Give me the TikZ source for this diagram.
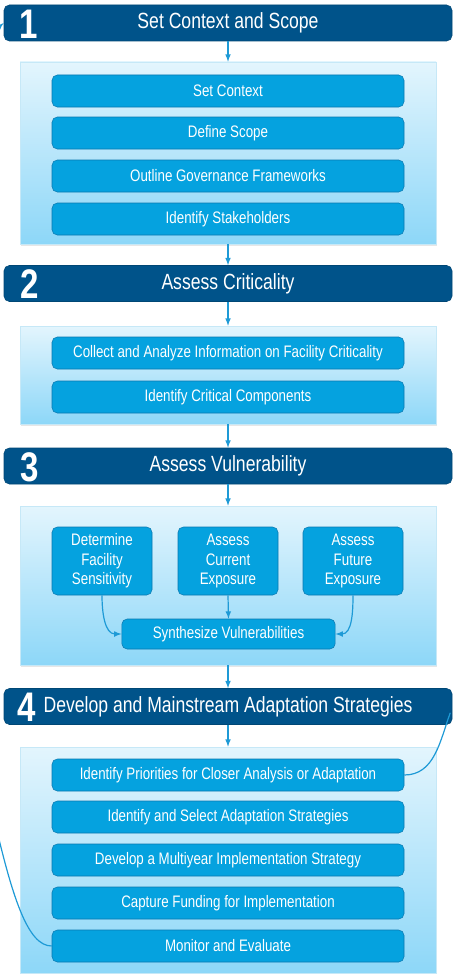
\documentclass[tikz,border=0pt]{standalone}
\usepackage{fontspec}
\setmainfont{Liberation Sans}[FakeStretch=0.8]
\usepackage{tikz}
\usetikzlibrary{calc}
\usetikzlibrary{positioning}
\usetikzlibrary{shadows}

\definecolor{hdrblue}{HTML}{00538A}
\definecolor{boxblue}{HTML}{05A2DF}
\definecolor{boxedge}{HTML}{0A78B0}
\definecolor{pantop}{HTML}{E3F5FD}
\definecolor{panbot}{HTML}{8DD7F8}
\definecolor{panedge}{HTML}{C6E8F7}
\definecolor{linkblue}{HTML}{1E9AD6}

\tikzset{
  hdr/.style={draw=hdrblue!85!black, fill=hdrblue, rounded corners=4pt, inner sep=0pt,
    minimum width=336pt, minimum height=27pt, text=white, font=\fontsize{16.5}{19}\selectfont},
  panel/.style={draw=panedge, top color=pantop, bottom color=panbot, inner sep=0pt, minimum width=312pt,
    drop shadow={opacity=0.2, shadow xshift=1pt, shadow yshift=-1.2pt}},
  stepbox/.style={draw=boxedge, fill=boxblue, rounded corners=4pt, inner sep=0pt, align=center,
    minimum width=264pt, minimum height=24pt, text=white, font=\fontsize{12.5}{14.5}\selectfont},
  num/.style={text=white, inner sep=0pt, font=\fontsize{31}{31}\bfseries\selectfont},
  link/.style={draw=linkblue, line width=0.9pt}
}

\begin{document}
\begin{tikzpicture}[>=latex, x=0.75pt, y=0.75pt]
\useasboundingbox (0,0) rectangle (453,-974);

% step 1
\node[hdr] at (228,-23) (h1) {Set Context and Scope};
\node[num] at (29,-24) (n1) {1};
\node[panel, minimum height=136.5pt] at (228,-153) (pan1) {};
\node[stepbox] at (228,-91) (s1) {Set Context};
\node[stepbox] at (228,-133) (s2) {Define Scope};
\node[stepbox] at (228,-176) (s3) {Outline Governance Frameworks};
\node[stepbox] at (228,-219) (s4) {Identify Stakeholders};

% step 2
\node[hdr] at (228,-283.5) (h2) {Assess Criticality};
\node[num] at (30,-284.5) (n2) {2};
\node[panel, minimum height=73.5pt] at (228,-375) (pan2) {};
\node[stepbox] at (228,-353) (c1) {Collect and Analyze Information on Facility Criticality};
\node[stepbox] at (228,-397) (c2) {Identify Critical Components};

% step 3
\node[hdr] at (228,-466) (h3) {Assess Vulnerability};
\node[num] at (30,-467) (n3) {3};
\node[panel, minimum height=119.25pt] at (228,-585.5) (pan3) {};
\node[stepbox, minimum width=75pt, minimum height=51pt] at (102,-561) (sens) {Determine\\Facility\\Sensitivity};
\node[stepbox, minimum width=75pt, minimum height=51pt] at (228,-561) (curr) {Assess\\Current\\Exposure};
\node[stepbox, minimum width=75pt, minimum height=51pt] at (353,-561) (fut) {Assess\\Future\\Exposure};
\node[stepbox, minimum width=160pt, minimum height=22.5pt] at (228.5,-634) (syn) {Synthesize Vulnerabilities};

\draw[link,->] (sens.south) to[out=-90,in=180] (syn.west);
\draw[link,->] (curr.south) -- (syn.north);
\draw[link,->] (fut.south) to[out=-90,in=0] (syn.east);

% step 4
\node[hdr] at (228,-706.5) (h4) {Develop and Mainstream Adaptation Strategies};
\node[num] at (27,-707.5) (n4) {4};
\node[panel, minimum height=169.5pt] at (228,-860) (pan4) {};
\node[stepbox] at (228,-775) (a1) {Identify Priorities for Closer Analysis or Adaptation};
\node[stepbox] at (228,-817) (a2) {Identify and Select Adaptation Strategies};
\node[stepbox] at (228,-860) (a3) {Develop a Multiyear Implementation Strategy};
\node[stepbox] at (228,-903) (a4) {Capture Funding for Implementation};
\node[stepbox] at (228,-946) (a5) {Monitor and Evaluate};

% flow between stages
\draw[link,->] (h1) -- (pan1);
\draw[link,->] (pan1) -- (h2);
\draw[link,->] (h2) -- (pan2);
\draw[link,->] (pan2) -- (h3);
\draw[link,->] (h3) -- (pan3);
\draw[link,->] (pan3) -- (h4);
\draw[link,->] (h4) -- (pan4);

% loops
\coordinate (loopl) at (-10,-800);
\draw[link,->] (a5.west) .. controls (28,-946) and (12,-900) .. (loopl)
  .. controls (-30,-700) and (-40,-60) .. (h1.west);
\draw[link] (a1.east) to[out=0,in=-110] ($(h4.south east)+(-2,12)$);

\end{tikzpicture}
\end{document}
